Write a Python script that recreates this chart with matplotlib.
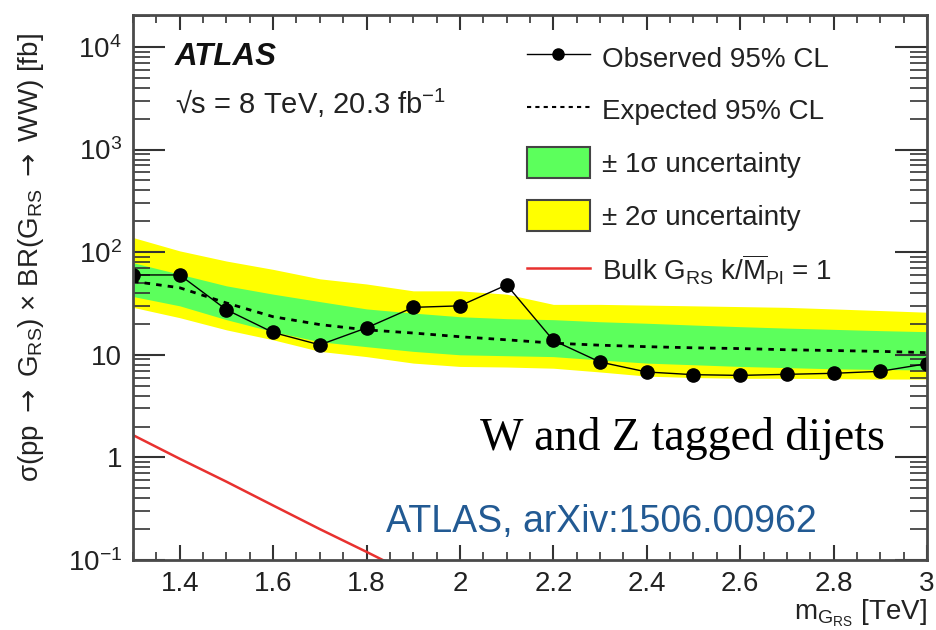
import matplotlib
matplotlib.use("Agg")
import matplotlib.pyplot as plt
import numpy as np
from matplotlib.lines import Line2D
from matplotlib.patches import Patch
from matplotlib.ticker import FixedLocator, FixedFormatter, MultipleLocator

plt.rcParams['font.family'] = ['Liberation Sans', 'DejaVu Sans']
plt.rcParams['mathtext.fontset'] = 'custom'
plt.rcParams['mathtext.rm'] = 'Liberation Sans'
plt.rcParams['mathtext.it'] = 'Liberation Sans:italic'
plt.rcParams['mathtext.bf'] = 'Liberation Sans:bold'
plt.rcParams['mathtext.sf'] = 'DejaVu Sans'  # used for the arrows only

# resonance mass points [TeV]
mass = [1.3, 1.4, 1.5, 1.6, 1.7, 1.8, 1.9, 2.0, 2.1, 2.2,
        2.3, 2.4, 2.5, 2.6, 2.7, 2.8, 2.9, 3.0]

# 95% CL limits [fb]
observed = [60, 60, 27.5, 16.5, 12.5, 18.3, 29, 30, 48, 13.8,
            8.5, 6.8, 6.4, 6.3, 6.45, 6.6, 6.9, 8.2]
expected = [52, 45, 32, 23.5, 19.7, 17.5, 16.3, 15, 14, 13,
            12.4, 12.0, 11.7, 11.5, 11.2, 11.0, 10.8, 10.5]
plus1 = [79, 61, 47, 39, 33, 28, 25.5, 23.5, 22.5, 22,
         21, 20.3, 19.5, 18.8, 18.2, 17.7, 17.2, 16.8]
minus1 = [37, 30, 22, 16.8, 13.4, 12, 10.8, 10, 9.8, 9.6,
          8.9, 8.3, 8.0, 7.7, 7.5, 7.3, 7.2, 7.1]
plus2 = [139, 103, 82, 68, 55, 49, 42, 42, 39, 31,
         31, 30.5, 30, 29.5, 29, 28, 27, 26]
minus2 = [29, 23, 17.5, 14, 10.8, 9.6, 8.3, 7.7, 7.6, 7.4,
          6.8, 6.2, 6.0, 5.9, 5.9, 5.85, 5.8, 5.8]

# bulk RS graviton prediction
theory_mass = [1.3, 1.4, 1.5, 1.6, 1.7, 1.8, 1.9, 2.0]
theory_xsec = [1.65, 0.97, 0.58, 0.34, 0.20, 0.12, 0.071, 0.042]

ytick_vals = [0.1, 1, 10, 100, 1000, 10000]
ytick_labels = [r"$10^{-1}$", "1", "10", r"$10^{2}$", r"$10^{3}$", r"$10^{4}$"]

GREEN = "#5cff5c"
YELLOW = "#ffff00"

fig = plt.figure(figsize=(9.36, 6.3), dpi=100)
ax = fig.add_axes([0.1421, 0.1111, 0.8483, 0.8651])

ax.fill_between(mass, minus2, plus2, color=YELLOW, lw=0)
ax.fill_between(mass, minus1, plus1, color=GREEN, lw=0)
ax.plot(mass, expected, color="black", lw=2, linestyle=(0, (2, 2.2)))
ax.plot(mass, observed, color="black", lw=1, marker="o", markersize=9.5)
ax.plot(theory_mass, theory_xsec, color="#e8312f", lw=1.8)

ax.set_yscale("log")
ax.set_xlim(1.3, 3.0)
ax.set_ylim(0.1, 2.05e4)

ax.yaxis.set_major_locator(FixedLocator(ytick_vals))
ax.yaxis.set_major_formatter(FixedFormatter(ytick_labels))
ax.xaxis.set_minor_locator(MultipleLocator(0.05))
ax.set_xticks([1.4, 1.6, 1.8, 2.0, 2.2, 2.4, 2.6, 2.8, 3.0])
ax.set_xticklabels(["1.4", "1.6", "1.8", "2", "2.2", "2.4", "2.6", "2.8", "3"])

ax.tick_params(which="both", direction="in", top=True, right=True,
               labelsize=20, colors="#333333", labelcolor="#222222")
ax.tick_params(axis="y", which="major", length=23, width=1.5, pad=8)
ax.tick_params(axis="y", which="minor", length=12, width=1.2)
ax.tick_params(axis="x", which="major", length=11, width=1.5, pad=8)
ax.tick_params(axis="x", which="minor", length=6, width=1.2)
for s in ax.spines.values():
    s.set_linewidth(2)
    s.set_color("#4a4a4a")

arrow = r"$\mathsf{\rightarrow}$"
ax.set_ylabel("σ(pp " + arrow + r" G$_{\rm RS}$) × BR(G$_{\rm RS}$ " + arrow + " WW) [fb]",
              fontsize=20, color="#222222")
ax.yaxis.set_label_coords(-0.11, 0.555)
ax.set_xlabel(r"m$_{{\rm G}_{\rm RS}}$ [TeV]", fontsize=20, color="#222222",
              loc="right", labelpad=0)

fig.text(175 / 936, 1 - 57 / 630, "ATLAS", fontsize=22.5, fontweight="bold",
         fontstyle="italic", va="center", color="#111111")
fig.text(175 / 936, 1 - 103 / 630, "√s = 8 TeV, 20.3 fb$^{-1}$",
         fontsize=21, va="center", color="#222222")

handles = [
    Line2D([], [], color="black", lw=1, marker="o", markersize=8),
    Line2D([], [], color="black", lw=1.5, linestyle=(0, (2, 2))),
    Patch(facecolor=GREEN, edgecolor="#444444", lw=1.5),
    Patch(facecolor=YELLOW, edgecolor="#444444", lw=1.5),
    Line2D([], [], color="#e8312f", lw=1.8),
]
labels = [
    "Observed 95% CL",
    "Expected 95% CL",
    "± 1σ uncertainty",
    "± 2σ uncertainty",
    r"Bulk G$_{\rm RS}$ k/$\overline{\rm M}_{\rm Pl}$ = 1",
]
leg = fig.legend(handles, labels, loc="upper left",
                 bbox_to_anchor=(527 / 936, 1 - 42 / 630),
                 frameon=False, fontsize=20, handlelength=2.25,
                 handleheight=1.35, handletextpad=0.45, labelspacing=0.77,
                 borderpad=0, borderaxespad=0)
for t in leg.get_texts():
    t.set_color("#222222")

fig.text(885 / 936, 1 - 438 / 630, "W and Z tagged dijets",
         family=["Liberation Serif", "DejaVu Serif"], fontsize=33,
         ha="right", va="center", color="black")
fig.text(817 / 936, 1 - 522 / 630, "ATLAS, arXiv:1506.00962",
         fontsize=27, ha="right", va="center", color="#225a93")

fig.savefig("out.png", dpi=100)
